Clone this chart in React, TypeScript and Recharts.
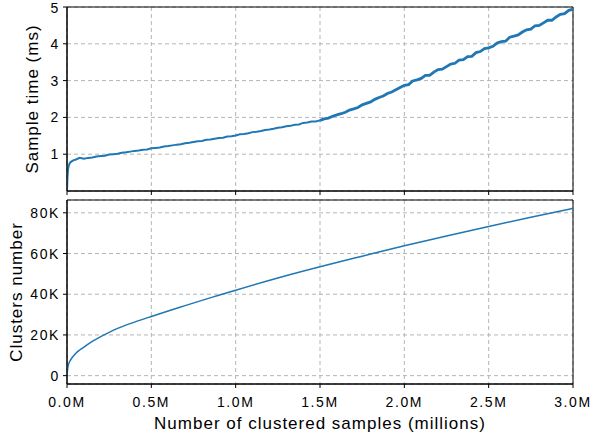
import { LineChart, Line, XAxis, YAxis, CartesianGrid, ReferenceArea } from 'recharts';

// x positions (millions of samples) for the sample time trace
const timeX = [
  0, 0.003, 0.006, 0.01, 0.015, 0.02, 0.03, 0.04, 0.05, 0.075,
  0.1, 0.125, 0.15, 0.175, 0.2, 0.225, 0.25, 0.275, 0.3, 0.325,
  0.35, 0.375, 0.4, 0.425, 0.45, 0.475, 0.5, 0.525, 0.55, 0.575,
  0.6, 0.625, 0.65, 0.675, 0.7, 0.725, 0.75, 0.775, 0.8, 0.825,
  0.85, 0.875, 0.9, 0.925, 0.95, 0.975, 1.0, 1.025, 1.05, 1.075,
  1.1, 1.125, 1.15, 1.175, 1.2, 1.225, 1.25, 1.275, 1.3, 1.325,
  1.35, 1.375, 1.4, 1.425, 1.45, 1.475, 1.5, 1.525, 1.55, 1.575,
  1.6, 1.625, 1.65, 1.675, 1.7, 1.725, 1.75, 1.775, 1.8, 1.825,
  1.85, 1.875, 1.9, 1.925, 1.95, 1.975, 2.0, 2.025, 2.05, 2.075,
  2.1, 2.125, 2.15, 2.175, 2.2, 2.225, 2.25, 2.275, 2.3, 2.325,
  2.35, 2.375, 2.4, 2.425, 2.45, 2.475, 2.5, 2.525, 2.55, 2.575,
  2.6, 2.625, 2.65, 2.675, 2.7, 2.725, 2.75, 2.775, 2.8, 2.825,
  2.85, 2.875, 2.9, 2.925, 2.95, 2.975, 3.0,
];

// sample time in ms
const sampleTime = [
  0, 0.4, 0.58, 0.68, 0.74, 0.78, 0.81, 0.84, 0.85, 0.9,
  0.88, 0.9, 0.91, 0.94, 0.95, 0.96, 0.99, 1.0, 1.01, 1.04,
  1.05, 1.07, 1.09, 1.1, 1.12, 1.13, 1.16, 1.17, 1.18, 1.21,
  1.22, 1.24, 1.26, 1.27, 1.3, 1.31, 1.33, 1.35, 1.36, 1.39,
  1.4, 1.42, 1.44, 1.45, 1.48, 1.49, 1.51, 1.54, 1.55, 1.57,
  1.6, 1.61, 1.63, 1.66, 1.67, 1.69, 1.72, 1.73, 1.76, 1.77,
  1.8, 1.81, 1.85, 1.86, 1.89, 1.89, 1.92, 1.96, 1.98, 2.03,
  2.07, 2.1, 2.14, 2.2, 2.23, 2.27, 2.34, 2.38, 2.42, 2.49,
  2.54, 2.58, 2.65, 2.69, 2.75, 2.81, 2.87, 2.89, 2.99, 3.02,
  3.06, 3.14, 3.14, 3.23, 3.3, 3.31, 3.38, 3.45, 3.47, 3.56,
  3.57, 3.65, 3.66, 3.76, 3.79, 3.87, 3.89, 3.93, 4.02, 4.06,
  4.07, 4.18, 4.21, 4.24, 4.32, 4.38, 4.4, 4.49, 4.5, 4.57,
  4.64, 4.64, 4.73, 4.8, 4.82, 4.91, 4.94,
];

// x positions (millions) for the cluster count curve
const clusterX = [
  0, 0.005, 0.01, 0.02, 0.03, 0.04, 0.05, 0.075, 0.1, 0.15,
  0.2, 0.25, 0.3, 0.4, 0.5, 0.6, 0.7, 0.8, 0.9, 1.0,
  1.25, 1.5, 1.75, 2.0, 2.25, 2.5, 2.75, 3.0,
];

const clusterCount = [
  0, 4000, 5800, 7500, 8800, 9800, 10800, 12600, 14000, 16800,
  19200, 21300, 23200, 26300, 29100, 31800, 34400, 37000, 39500, 42000,
  48000, 53500, 58700, 63800, 68600, 73300, 77800, 82200,
];

const xTicks = [0, 0.5, 1, 1.5, 2, 2.5, 3];
const timeTicks = [0, 1, 2, 3, 4, 5];
const clusterTicks = [0, 20000, 40000, 60000, 80000];

// the trace gets noisier past 1.5M, so the later part is drawn a bit heavier
const timeData = timeX.map((x, i) => ({
  x,
  early: x <= 1.5 ? sampleTime[i] : null,
  late: x >= 1.5 ? sampleTime[i] : null,
}));
const clusterData = clusterX.map((x, i) => ({ x, clusters: clusterCount[i] }));

const BLUE = '#1f77b4';
const tickStyle = { fill: '#000', fontSize: 14, letterSpacing: 1.6 };
const labelStyle = { fill: '#000', fontSize: 17, letterSpacing: 1, textAnchor: 'middle' as const };
const gridProps = { strokeDasharray: '4 3', stroke: '#b5b5b5' };

export default function App() {
  return (
    <div style={{ position: 'absolute', left: 0, top: 0, fontFamily: '"Liberation Sans", Arial, sans-serif', background: '#fff' }}>
      {/* Sample time */}
      <LineChart width={592} height={196} data={timeData} margin={{ top: 7, right: 19, left: 0, bottom: 0 }}>
        <CartesianGrid {...gridProps} />
        <XAxis
          dataKey="x"
          type="number"
          domain={[0, 3]}
          ticks={xTicks}
          allowDataOverflow
          height={5}
          tickSize={4}
          tickFormatter={() => ''}
          stroke="#000"
        />
        <YAxis
          type="number"
          domain={[0, 5]}
          ticks={timeTicks}
          allowDataOverflow
          width={67}
          tickSize={4}
          tickMargin={3}
          tick={tickStyle}
          stroke="#000"
          label={{ value: 'Sample time (ms)', angle: -90, position: 'insideLeft', offset: 32, style: labelStyle }}
        />
        <ReferenceArea x1={0} x2={3} y1={0} y2={5} fill="none" stroke="#000" strokeWidth={1} />
        <Line dataKey="early" stroke={BLUE} strokeWidth={2} dot={false} connectNulls={false} isAnimationActive={false} />
        <Line dataKey="late" stroke={BLUE} strokeWidth={2.8} dot={false} connectNulls={false} isAnimationActive={false} />
      </LineChart>

      {/* Clusters number */}
      <LineChart width={592} height={237} data={clusterData} margin={{ top: 4, right: 19, left: 0, bottom: 0 }}>
        <CartesianGrid {...gridProps} />
        <XAxis
          dataKey="x"
          type="number"
          domain={[0, 3]}
          ticks={xTicks}
          allowDataOverflow
          height={49}
          tickSize={4}
          tickMargin={9}
          tick={tickStyle}
          tickFormatter={(v: number) => `${v.toFixed(1)}M`}
          stroke="#000"
          label={{ value: 'Number of clustered samples (millions)', position: 'insideBottom', offset: 4, style: labelStyle }}
        />
        <YAxis
          type="number"
          domain={[-4100, 86300]}
          ticks={clusterTicks}
          allowDataOverflow
          width={67}
          tickSize={4}
          tickMargin={3}
          tick={tickStyle}
          tickFormatter={(v: number) => (v === 0 ? '0' : `${v / 1000}K`)}
          stroke="#000"
          label={{ value: 'Clusters number', angle: -90, position: 'insideLeft', offset: 16, style: labelStyle }}
        />
        <ReferenceArea x1={0} x2={3} y1={-4100} y2={86300} fill="none" stroke="#000" strokeWidth={1} />
        <Line type="monotone" dataKey="clusters" stroke={BLUE} strokeWidth={1.5} dot={false} isAnimationActive={false} />
      </LineChart>
    </div>
  );
}
